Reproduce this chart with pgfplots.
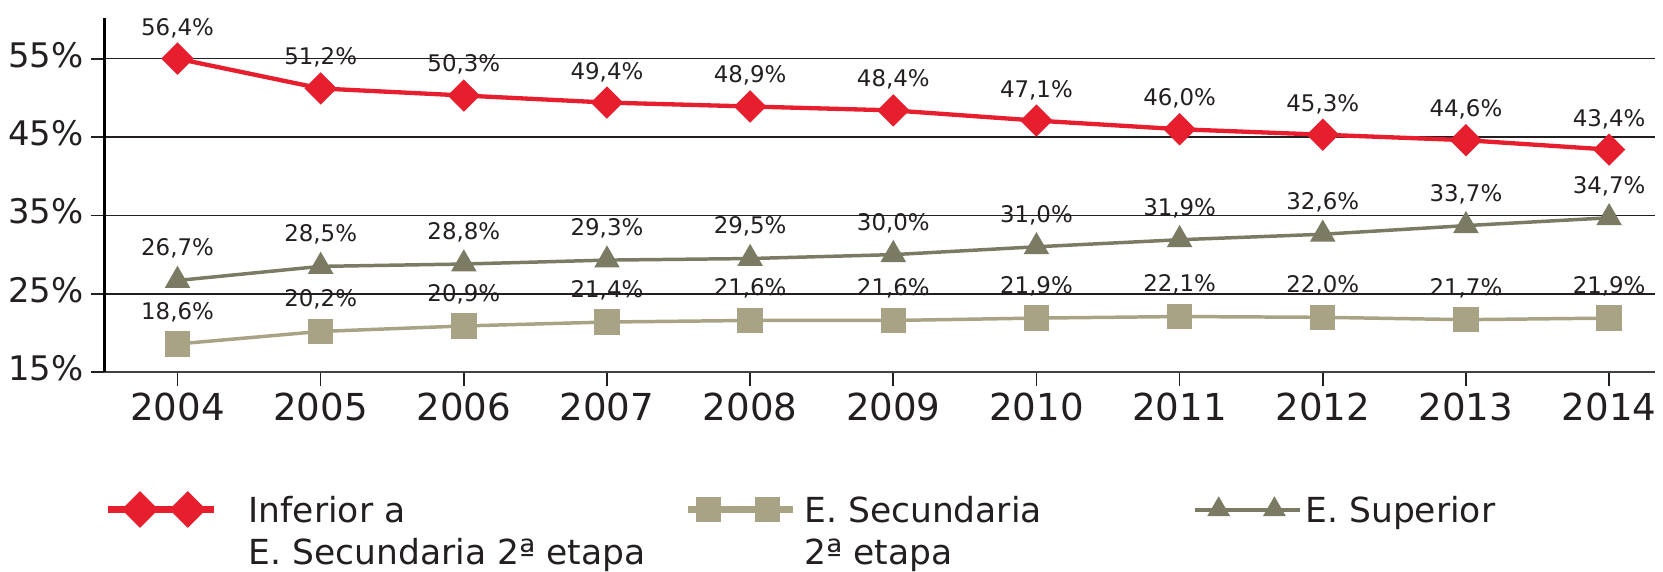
\documentclass[border=0pt]{standalone}
\usepackage{pgfplots}
\pgfplotsset{compat=1.18}
\usepackage{fontspec}
\setmainfont{DejaVu Sans}
\definecolor{rojo}{RGB}{230,30,45}
\definecolor{caqui}{RGB}{168,163,132}
\definecolor{oliva}{RGB}{123,122,99}
\definecolor{texto}{RGB}{35,31,32}
\newcommand{\legfont}{\fontsize{10.4}{12.7}\selectfont}
\begin{document}
\begin{tikzpicture}
\begin{axis}[
  name=ax, at={(0,0)}, anchor=south west,
  scale only axis, width=467.4pt, height=106.8pt,
  xmin=2003.49, xmax=2014.32, ymin=15, ymax=60.2,
  clip=false,
  axis x line*=bottom, axis y line*=left,
  x axis line style={line width=0.6pt, draw=texto!85},
  y axis line style={line width=0.9pt, draw=black},
  xtick={2004,2005,...,2014},
  ytick={15,25,35,45,55},
  tick align=outside, major tick length=4.2pt,
  tick style={line width=0.5pt, draw=texto},
  /pgf/number format/assume math mode=true,
  x tick label style={/pgf/number format/1000 sep={}, font=\fontsize{11.2}{13}\selectfont, text=texto, inner sep=2pt},
  yticklabel={\pgfmathprintnumber{\tick}\%},
  y tick label style={font=\fontsize{10.2}{12}\selectfont, text=texto, inner sep=2pt, yshift=1.2pt},
  ymajorgrids, grid style={line width=0.45pt, draw=texto},
  nodes near coords={\pgfplotspointmeta},
  point meta=explicit symbolic,
  every node near coord/.append style={font=\fontsize{6.9}{8}\selectfont, text=texto, anchor=base, inner sep=0pt},
  legend columns=3,
  legend style={at={(axis description cs:0,-0.34)}, anchor=north west, draw=none, fill=none,
    inner sep=0pt, outer sep=0pt, column sep=0pt, row sep=0pt, font=\legfont, text=texto,
    nodes={inner sep=0pt, outer sep=0pt}},
  legend cell align=left,
  legend style={cells={anchor=base west}},
]
% Inferior a E. Secundaria 2a etapa
\addplot[rojo, line width=1.3pt, mark=square*, mark size=2.8pt, mark options={rotate=45},
  every node near coord/.append style={yshift=7.1pt},
  legend image code/.code={\draw[line width=2.2pt, mark indices={2,3}] plot coordinates {(0pt,3.8pt) (9.6pt,3.8pt) (24pt,3.8pt) (31.8pt,3.8pt)};}]
coordinates {
  (2004,55.0)[56,4\%] (2005,51.2)[51,2\%] (2006,50.3)[50,3\%] (2007,49.4)[49,4\%]
  (2008,48.9)[48,9\%] (2009,48.4)[48,4\%] (2010,47.1)[47,1\%] (2011,46.0)[46,0\%]
  (2012,45.3)[45,3\%] (2013,44.6)[44,6\%] (2014,43.4)[43,4\%]
};
\addlegendentry{\makebox[140.9pt][l]{\hspace*{9.5pt}\begin{tabular}[t]{@{}l@{}}Inferior a\\E. Secundaria 2ª etapa\end{tabular}}}
% E. Secundaria 2a etapa
\addplot[caqui, line width=1.05pt, mark=square*, mark size=3.3pt,
  every node near coord/.append style={yshift=7.4pt},
  legend image code/.code={\draw[line width=2pt, mark size=2.8pt, mark indices={2,3}] plot coordinates {(0pt,3.8pt) (6.3pt,3.8pt) (24pt,3.8pt) (31.8pt,3.8pt)};}]
coordinates {
  (2004,18.6)[18,6\%] (2005,20.2)[20,2\%] (2006,20.9)[20,9\%] (2007,21.4)[21,4\%]
  (2008,21.6)[21,6\%] (2009,21.6)[21,6\%] (2010,21.9)[21,9\%] (2011,22.1)[22,1\%]
  (2012,22.0)[22,0\%] (2013,21.7)[21,7\%] (2014,21.9)[21,9\%]
};
\addlegendentry{\makebox[119.4pt][l]{\hspace*{2.3pt}\begin{tabular}[t]{@{}l@{}}E. Secundaria\\2ª etapa\end{tabular}}}
% E. Superior
\addplot[oliva, line width=1.05pt, mark=triangle*, mark size=3.4pt,
  every node near coord/.append style={yshift=7.4pt},
  legend image code/.code={\draw[line width=1.2pt, mark size=2.8pt, mark indices={2,3}] plot coordinates {(0pt,3.8pt) (7.2pt,3.8pt) (24pt,3.8pt) (31.8pt,3.8pt)};}]
coordinates {
  (2004,26.7)[26,7\%] (2005,28.5)[28,5\%] (2006,28.8)[28,8\%] (2007,29.3)[29,3\%]
  (2008,29.5)[29,5\%] (2009,30.0)[30,0\%] (2010,31.0)[31,0\%] (2011,31.9)[31,9\%]
  (2012,32.6)[32,6\%] (2013,33.7)[33,7\%] (2014,34.7)[34,7\%]
};
\addlegendentry{\hspace*{1pt}E. Superior}
\end{axis}
\path[use as bounding box] ([shift={(-31.5pt,-60pt)}]ax.south west) rectangle ++(498.9pt,172.2pt);
\end{tikzpicture}
\end{document}
